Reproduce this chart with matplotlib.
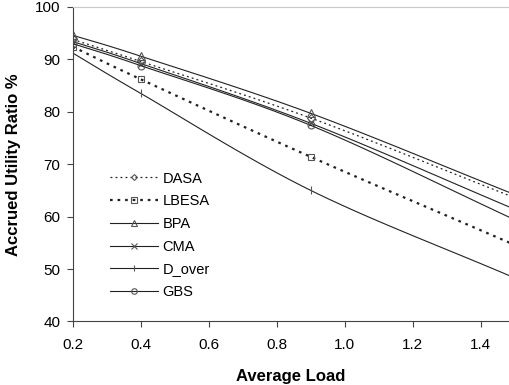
import numpy as np
import matplotlib
matplotlib.use("Agg")
import matplotlib.pyplot as plt

plt.rcParams['font.family'] = ['Liberation Sans', 'DejaVu Sans']

# average load points
loads = [0.2, 0.4, 0.9, 1.5]

# accrued utility ratio (%) per scheduler
dasa = [93.8, 89.6, 78.8, 63.6]
lbesa = [92.4, 86.2, 71.4, 54.6]
bpa = [94.6, 90.6, 79.7, 64.2]
cma = [93.4, 89.2, 77.8, 61.4]
d_over = [91.2, 83.5, 65.0, 48.3]
gbs = [93.0, 88.8, 77.4, 59.4]


def smooth(xs, ys, n=30):
    # catmull-rom curve through the points, like excel's smoothed line
    xs = np.asarray(xs, float)
    ys = np.asarray(ys, float)
    px = np.concatenate([[2 * xs[0] - xs[1]], xs, [2 * xs[-1] - xs[-2]]])
    py = np.concatenate([[2 * ys[0] - ys[1]], ys, [2 * ys[-1] - ys[-2]]])
    ox, oy = [], []
    t = np.linspace(0, 1, n)
    for i in range(1, len(px) - 2):
        for p, out in ((px, ox), (py, oy)):
            p0, p1, p2, p3 = p[i - 1], p[i], p[i + 1], p[i + 2]
            out.extend(0.5 * (2 * p1 + (-p0 + p2) * t
                              + (2 * p0 - 5 * p1 + 4 * p2 - p3) * t ** 2
                              + (-p0 + 3 * p1 - 3 * p2 + p3) * t ** 3))
    return ox, oy


series = [
    ("DASA", dasa, (0, (1.5, 2.5)), 'D', 0.9, 4),
    ("LBESA", lbesa, (0, (1.2, 2.2)), 's', 1.6, 5),
    ("BPA", bpa, '-', '^', 0.8, 6),
    ("CMA", cma, '-', 'x', 0.8, 5),
    ("D_over", d_over, '-', '|', 0.8, 6),
    ("GBS", gbs, '-', 'o', 0.8, 5),
]

fig = plt.figure(figsize=(5.09, 3.85), dpi=100)
ax = fig.add_axes([0.143, 0.165, 0.857, 0.817])

for name, vals, ls, mk, lw, ms in series:
    sx, sy = smooth(loads, vals)
    ax.plot(sx, sy, color='#222222', linestyle=ls, linewidth=lw)
    ax.plot(loads, vals, linestyle='none', marker=mk, markersize=ms,
            markerfacecolor='none', markeredgecolor='#555555', markeredgewidth=0.8)
    ax.plot([], [], color='#222222', linestyle=ls, linewidth=lw, marker=mk,
            markersize=ms - 1, markerfacecolor='none', markeredgecolor='#555555',
            markeredgewidth=0.8, label=name)

ax.set_xlim(0.2, 1.483)
ax.set_ylim(40, 100)
ax.set_xticks([0.2, 0.4, 0.6, 0.8, 1.0, 1.2, 1.4])
ax.set_xticklabels(['0.2', '0.4', '0.6', '0.8', '1.0', '1.2', '1.4'])
ax.set_yticks([40, 50, 60, 70, 80, 90, 100])

ax.spines['right'].set_visible(False)
ax.spines['top'].set_color('#c8c8c8')
ax.spines['left'].set_color('#444444')
ax.spines['bottom'].set_color('#444444')
ax.tick_params(labelsize=11, length=4, width=0.8, color='#444444')
ax.tick_params(axis='x', pad=8)
ax.tick_params(axis='y', pad=5)

ax.set_xlabel('Average Load', fontsize=12, fontweight='bold', labelpad=12)
ax.set_ylabel('Accrued Utility Ratio %', fontsize=12, fontweight='bold', labelpad=10)

ax.legend(loc='lower left', bbox_to_anchor=(0.045, 0.015), frameon=False, fontsize=10.5,
          handlelength=3.3, handletextpad=0.3, labelspacing=0.6, borderaxespad=0.8)

fig.savefig('out.png', dpi=100)
